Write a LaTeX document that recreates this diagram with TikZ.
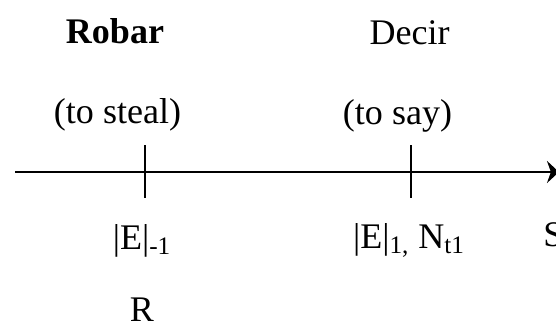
\documentclass[tikz,border=0pt]{standalone}
\usepackage{fontspec}
\setmainfont{Liberation Serif}
\usetikzlibrary{arrows.meta}
\tikzstyle{verb} = [align=center,inner sep=0pt,text height=0.7em,text depth=0.2em]
\tikzstyle{gloss} = [align=center,inner sep=0pt,text height=0.7em,text depth=0.2em]
\tikzstyle{event} = [align=center,inner sep=0pt,text height=0.7em,text depth=0.2em]
\tikzstyle{axisline} = [line width=1.5pt,-{Stealth[length=0.24cm,width=0.44cm]}]
\tikzstyle{tickline} = [line width=1.4pt]

\begin{document}
\begin{tikzpicture}[node distance=1.6cm,font=\fontsize{20.5pt}{24pt}\selectfont]
				\useasboundingbox (0,0) rectangle (11.12,6.6);
				\clip (0,0) rectangle (11.12,6.6);
				\node (robar) [verb] at (2.3,5.82) {\bfseries Robar};
				\node (steal) [gloss,below of=robar,xshift=0.05cm] {(to steal)};
				\node (decir) [verb] at (8.19,5.8) {Decir};
				\node (say) [gloss,below of=decir,xshift=-0.24cm] {(to say)};
				\node (e1) [event] at (2.84,1.7) {|E|\textsubscript{-1}};
				\node (r) [event,below of=e1,node distance=1.45cm] {R};
				\node (e2) [event] at (8.18,1.72) {|E|\textsubscript{1,} N\textsubscript{t1}};
				\node (s) [event,anchor=west] at (10.86,1.76) {S};
				\coordinate (start) at (0.3,3.16);
				\coordinate (end) at (11.18,3.16);
				\coordinate (t1top) at (2.9,3.7);
				\coordinate (t1bot) at (2.9,2.64);
				\coordinate (t2top) at (8.22,3.7);
				\coordinate (t2bot) at (8.22,2.64);
				\draw [axisline] (start) -- (end);
				\draw [tickline] (t1top) -- (t1bot);
				\draw [tickline] (t2top) -- (t2bot);
			\end{tikzpicture}
\end{document}
